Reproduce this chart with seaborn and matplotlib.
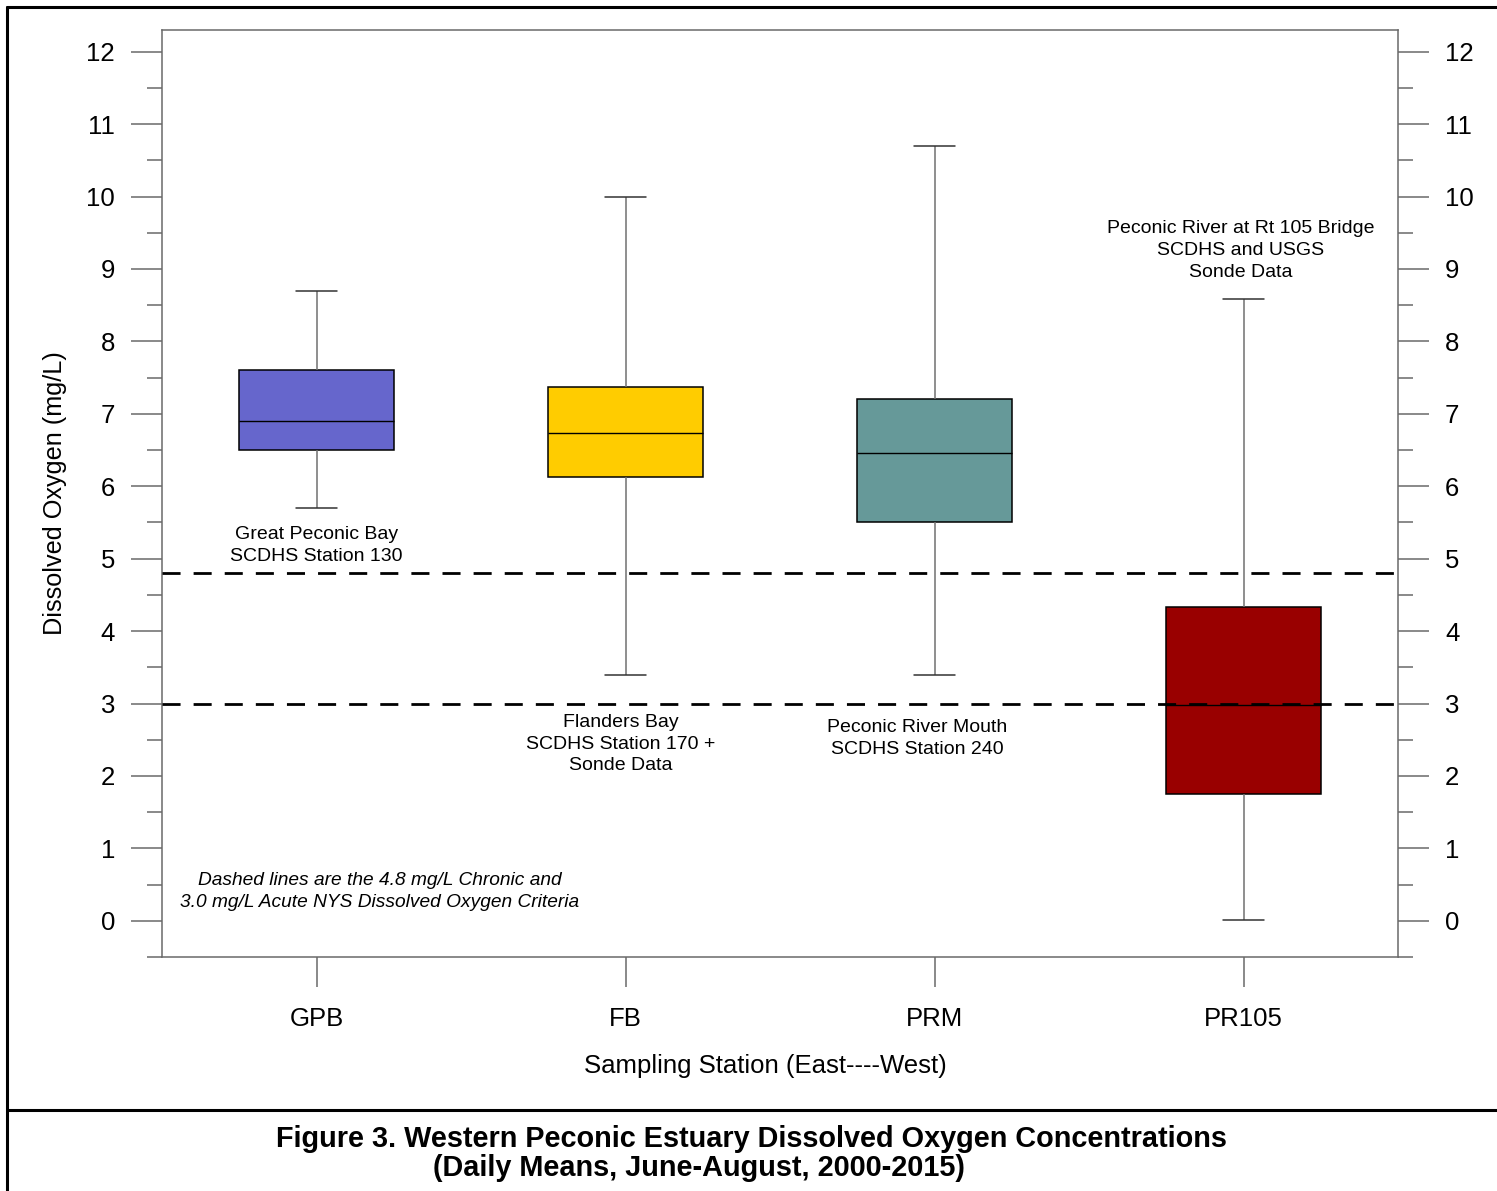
import numpy as np
import pandas as pd
import matplotlib
matplotlib.use("Agg")
import matplotlib.pyplot as plt
from matplotlib.lines import Line2D
from matplotlib.ticker import MultipleLocator
import seaborn as sns

# ---- data ----
stations = ["GPB", "FB", "PRM", "PR105"]
whisker_low = [5.70, 3.40, 3.40, 0.01]
q1 = [6.50, 6.13, 5.50, 1.75]
median = [6.90, 6.74, 6.46, 2.98]
q3 = [7.60, 7.37, 7.20, 4.33]
whisker_high = [8.70, 10.00, 10.70, 8.58]
colors = ["#6666CC", "#FFCC00", "#669999", "#990000"]
criteria = [4.8, 3.0]
yticks = list(range(0, 13))

# five-number summaries -> samples whose quartiles reproduce them exactly
rows = []
for i, s in enumerate(stations):
    for v in (whisker_low[i], q1[i], median[i], q3[i], whisker_high[i]):
        rows.append({"station": s, "DO": v})
df = pd.DataFrame(rows)

sns.set_theme(style="ticks")
plt.rcParams["font.family"] = ["Liberation Sans", "DejaVu Sans"]
plt.rcParams["text.color"] = "black"
plt.rcParams["axes.labelcolor"] = "black"
plt.rcParams["xtick.labelcolor"] = "black"
plt.rcParams["ytick.labelcolor"] = "black"

fig = plt.figure(figsize=(14.97, 11.91), dpi=100)
ax = fig.add_axes([0.10822, 0.19647, 0.82565, 0.77834])

sns.boxplot(
    data=df, x="station", y="DO", hue="station", order=stations,
    hue_order=stations, palette=colors, legend=False, ax=ax,
    width=0.5, whis=(0, 100), saturation=1, capwidths=0.133,
    boxprops=dict(edgecolor="black", linewidth=1.1),
    whiskerprops=dict(color="#707070", linewidth=1.1),
    capprops=dict(color="#333333", linewidth=1.1),
    medianprops=dict(color="black", linewidth=1.0),
    showfliers=False,
)

for c in criteria:
    ax.axhline(c, color="black", lw=2.0, linestyle=(0, (6.5, 4.7)), zorder=10)

ax.set_xlim(-0.5, 3.5)
ax.set_ylim(-0.5, 12.3)
ax.set_yticks(yticks)
ax.yaxis.set_minor_locator(MultipleLocator(0.5))

spine_color = "#6a6a6a"
for sp in ax.spines.values():
    sp.set_visible(True)
    sp.set_color(spine_color)
    sp.set_linewidth(1.1)

tick_fs = 18.5
ax.tick_params(axis="y", which="major", direction="out", length=22.3, width=1.1,
               color=spine_color, labelsize=tick_fs, labelcolor="black", pad=11.5,
               left=True, right=True, labelleft=True, labelright=True)
ax.tick_params(axis="y", which="minor", direction="out", length=10.8, width=1.1,
               color=spine_color, left=True, right=True)
ax.tick_params(axis="x", which="major", direction="out", length=21.6, width=1.1,
               color=spine_color, labelsize=tick_fs, labelcolor="black", pad=14.5)
ax.tick_params(axis="x", which="minor", bottom=False, top=False)

ax.set_xlabel("Sampling Station (East----West)", fontsize=18.5, color="black")
ax.set_ylabel("Dissolved Oxygen (mg/L)", fontsize=18.2, color="black")
ax.xaxis.set_label_coords(0.488, -0.105)
ax.yaxis.set_label_coords(-0.077, 0.5)

ann_fs = 14
ls = 1.37
ax.text(0.0, 5.185, "Great Peconic Bay\nSCDHS Station 130", ha="center", va="center",
        fontsize=ann_fs, linespacing=ls, color="black")
ax.text(0.985, 2.44, "Flanders Bay\nSCDHS Station 170 +\nSonde Data", ha="center",
        va="center", fontsize=ann_fs, linespacing=ls, color="black")
ax.text(1.945, 2.52, "Peconic River Mouth\nSCDHS Station 240", ha="center",
        va="center", fontsize=ann_fs, linespacing=ls, color="black")
ax.text(2.99, 9.256, "Peconic River at Rt 105 Bridge\nSCDHS and USGS\nSonde Data",
        ha="center", va="center", fontsize=ann_fs, linespacing=ls, color="black")
ax.text(0.204, 0.41, "Dashed lines are the 4.8 mg/L Chronic and\n3.0 mg/L Acute NYS Dissolved Oxygen Criteria",
        ha="center", va="center", fontsize=13.8, style="italic", linespacing=ls,
        color="black")

# caption
fig.text(751 / 1497, 1 - 1139 / 1191,
         "Figure 3. Western Peconic Estuary Dissolved Oxygen Concentrations",
         ha="center", va="center", fontsize=20.8, fontweight="bold", color="black")
fig.text(699 / 1497, 1 - 1168 / 1191,
         "(Daily Means, June-August, 2000-2015)",
         ha="center", va="center", fontsize=20.8, fontweight="bold", color="black")

# frame lines
W, H = 1497, 1191
lw_frame = 2.2
fig.add_artist(Line2D([7 / W, 1], [1 - 7 / H, 1 - 7 / H], transform=fig.transFigure,
                      color="black", lw=lw_frame))
fig.add_artist(Line2D([7 / W, 7 / W], [0, 1 - 7 / H], transform=fig.transFigure,
                      color="black", lw=lw_frame))
fig.add_artist(Line2D([7 / W, 1], [1 - 1110 / H, 1 - 1110 / H], transform=fig.transFigure,
                      color="black", lw=lw_frame))

fig.savefig("out.png", dpi=100, facecolor="white")
